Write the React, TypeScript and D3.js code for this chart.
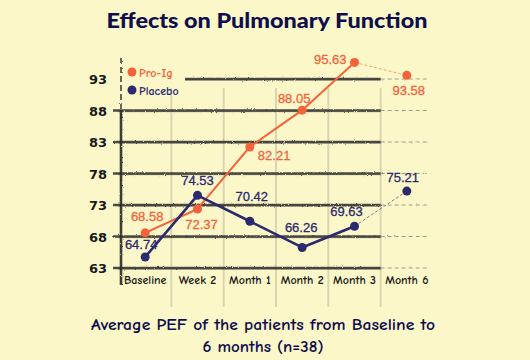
import React from "react";
import * as d3 from "d3";

const categories = ["Baseline", "Week 2", "Month 1", "Month 2", "Month 3", "Month 6"];
const proIg = [68.58, 72.37, 82.21, 88.05, 95.63, 93.58];
const placebo = [64.74, 74.53, 70.42, 66.26, 69.63, 75.21];
const yTicks = [63, 68, 73, 78, 83, 88, 93];

// label offsets (dx, dy, anchor) relative to each point
const proIgLabelPos = [
  [2, -12, "middle"],
  [4, 20, "middle"],
  [8, 13, "start"],
  [-8, -7, "middle"],
  [-8, 2, "end"],
  [2, 20, "middle"],
];
const placeboLabelPos = [
  [-4, -8, "middle"],
  [0, -10, "middle"],
  [2, -20, "middle"],
  [-1, -15, "middle"],
  [-8, -10, "middle"],
  [-4, -9, "middle"],
];

const W = 530;
const H = 360;
const BG = "#fbf7c9";
const ORANGE = "#f4623a";
const NAVY = "#2b2a6e";
const INK = "#2a2a2a";

export default function App() {
  const x = d3.scaleBand<string>().domain(categories).range([119, 433]);
  const y = d3.scaleLinear().domain([63, 93]).range([268, 79]);
  const cx = (c: string) => (x(c) as number) + x.bandwidth() / 2;
  const solidEnd = x("Month 6") as number;

  const line = d3
    .line<number>()
    .x((_, i) => cx(categories[i]))
    .y((d) => y(d));
  const tailLine = d3
    .line<number>()
    .x((_, i) => cx(categories[i + 4]))
    .y((d) => y(d));

  const series = [
    { name: "Pro-Ig", values: proIg, color: ORANGE, width: 2, labels: proIgLabelPos },
    { name: "Placebo", values: placebo, color: NAVY, width: 2.6, labels: placeboLabelPos },
  ];

  const labelFont = "'Liberation Sans', Arial, sans-serif";
  const comic = "'Comic Sans MS', 'Comic Neue', 'DejaVu Sans', sans-serif";

  return (
    <svg width={W} height={H} style={{ position: "absolute", left: 0, top: 0, background: BG }}>
      <defs>
        <filter id="rough" x="-5%" y="-50%" width="110%" height="200%">
          <feTurbulence type="fractalNoise" baseFrequency="0.9" numOctaves="2" seed="3" />
          <feDisplacementMap in="SourceGraphic" scale="2.2" />
        </filter>
      </defs>
      <rect width={W} height={H} fill={BG} />

      <text
        x={267}
        y={28}
        textAnchor="middle"
        fontFamily="Lato, 'DejaVu Sans', sans-serif"
        fontWeight={900}
        fontSize={21}
        fill="#0e0e4d"
        textLength={321}
        lengthAdjust="spacingAndGlyphs"
      >
        Effects on Pulmonary Function
      </text>

      {/* vertical grid lines between categories */}
      {categories.slice(1).map((c) => (
        <line
          key={"v" + c}
          x1={x(c) as number}
          x2={x(c) as number}
          y1={88}
          y2={307}
          stroke="#cdc8a6"
          strokeWidth={2}
          opacity={0.7}
        />
      ))}

      {/* horizontal grid lines */}
      <g filter="url(#rough)">
        {yTicks.map((t) => (
          <g key={"h" + t}>
            <line
              x1={t === 93 ? 185 : 113}
              x2={solidEnd}
              y1={y(t)}
              y2={y(t)}
              stroke={INK}
              strokeWidth={2.6}
              opacity={0.85}
            />
            <line
              x1={t === 93 ? 185 : 118}
              x2={solidEnd}
              y1={y(t) + 1.2}
              y2={y(t) + 1.2}
              stroke={INK}
              strokeWidth={0.8}
              opacity={0.5}
            />
            <line
              x1={solidEnd}
              x2={428}
              y1={y(t)}
              y2={y(t)}
              stroke="#777"
              strokeWidth={1}
              strokeDasharray="4 3"
              opacity={0.7}
            />
          </g>
        ))}
        {/* y axis */}
        <line x1={121} x2={121} y1={58} y2={120} stroke={INK} strokeWidth={2} strokeDasharray="6 3" opacity={0.7} />
        <line x1={121} x2={121} y1={110} y2={285} stroke={INK} strokeWidth={2.6} opacity={0.9} />
      </g>

      {/* y tick labels */}
      {yTicks.map((t) => (
        <text
          key={"yt" + t}
          x={107}
          y={y(t) + 5}
          textAnchor="end"
          fontFamily="'DejaVu Sans', sans-serif"
          fontWeight="bold"
          fontSize={13}
          fill="#1a1a1a"
        >
          {t}
        </text>
      ))}

      {/* x labels */}
      {categories.map((c) => (
        <text
          key={"xl" + c}
          x={cx(c)}
          y={284}
          textAnchor="middle"
          fontFamily={comic}
          fontWeight="bold"
          fontSize={12}
          fill="#1a1a1a"
        >
          {c}
        </text>
      ))}

      {/* series */}
      {series.map((s) => (
        <g key={s.name}>
          <path
            d={line(s.values.slice(0, 5)) as string}
            fill="none"
            stroke={s.color}
            strokeWidth={s.width}
            strokeLinejoin="round"
          />
          <path
            d={tailLine(s.values.slice(4)) as string}
            fill="none"
            stroke={s.color}
            strokeWidth={1}
            strokeDasharray="3 2"
            opacity={0.6}
          />
          {s.values.map((v, i) => (
            <circle key={i} cx={cx(categories[i])} cy={y(v)} r={4.5} fill={s.color} />
          ))}
          {s.values.map((v, i) => {
            const [dx, dy, anchor] = s.labels[i] as [number, number, string];
            return (
              <text
                key={"l" + i}
                x={cx(categories[i]) + dx}
                y={y(v) + dy}
                textAnchor={anchor}
                fontFamily={labelFont}
                fontSize={13}
                fill={s.color}
                stroke={s.color}
                strokeWidth={0.3}
              >
                {v.toFixed(2)}
              </text>
            );
          })}
        </g>
      ))}

      {/* legend */}
      {series.map((s, i) => (
        <g key={"lg" + s.name}>
          <circle cx={132} cy={72 + i * 18} r={4.5} fill={s.color} />
          <text
            x={139}
            y={76.5 + i * 18}
            fontFamily={comic}
            fontWeight="bold"
            fontSize={12}
            fill={s.color}
          >
            {s.name}
          </text>
        </g>
      ))}

      {/* subtitle */}
      <text
        x={263}
        y={330}
        textAnchor="middle"
        fontFamily={comic}
        fontWeight="bold"
        fontSize={15}
        fill="#0e0e4d"
        textLength={344}
        lengthAdjust="spacingAndGlyphs"
      >
        Average PEF of the patients from Baseline to
      </text>
      <text
        x={263}
        y={352}
        textAnchor="middle"
        fontFamily={comic}
        fontWeight="bold"
        fontSize={15}
        fill="#0e0e4d"
        textLength={121}
        lengthAdjust="spacingAndGlyphs"
      >
        6 months (n=38)
      </text>
    </svg>
  );
}
